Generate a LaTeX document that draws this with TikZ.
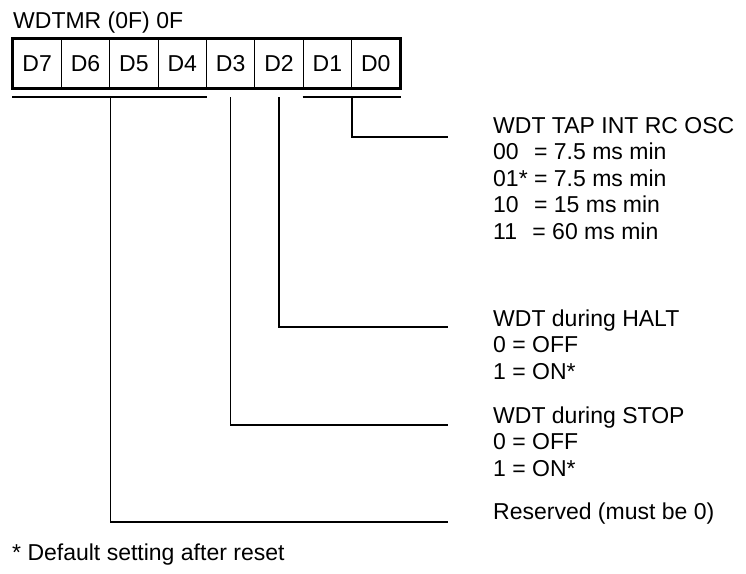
\documentclass[tikz,border=0pt]{standalone}
\usepackage{fontspec}
\setmainfont{Liberation Sans}
\tikzset{
  cell/.style ={draw=black,line width=1.2pt,minimum width=48.375pt,
                minimum height=49pt,inner sep=0pt,font=\fontsize{23}{27}\selectfont},
  frame/.style={draw=black,line width=2.8pt},
  wire/.style ={draw=black,line width=1.5pt},
  lbl/.style  ={anchor=base west,inner sep=0pt,font=\fontsize{23}{27}\selectfont},
}
\begin{document}
\begin{tikzpicture}[x=1pt, y=-1pt]
\useasboundingbox (0,0) rectangle (746,573);

%% ---------------- register ----------------
\node[lbl] (title) at (13,28) {WDTMR (0F) 0F};
\foreach \b [count=\i from 0] in {7,6,5,4,3,2,1,0}
  \node[cell] (d\b) at (13+48.375*\i+24.1875, 63.5) {D\b};
\draw[frame] (d7.north west) rectangle (d0.south east);

%% ---------------- bit descriptions ----------------
\foreach \txt [count=\i from 0] in {WDT TAP INT RC OSC,
    00\hphantom{*} = 7.5 ms min, 01* = 7.5 ms min,
    10\hphantom{*} = 15 ms min, 11\hphantom{*} = 60 ms min}
  \node[lbl] (tap\i) at (493, 133+26.5*\i) {\txt};
\foreach \txt [count=\i from 0] in {WDT during HALT, 0 = OFF, 1 = ON*}
  \node[lbl] (halt\i) at (493, 326+26.5*\i) {\txt};
\foreach \txt [count=\i from 0] in {WDT during STOP, 0 = OFF, 1 = ON*}
  \node[lbl] (stop\i) at (493, 423+26.5*\i) {\txt};
\node[lbl] (rsv) at (493,519) {Reserved (must be 0)};
\node[lbl] (note) at (12,560) {* Default setting after reset};

%% ---------------- brackets and leaders ----------------
\coordinate (bus) at (0,97);
\coordinate (e10) at (448,137);
\coordinate (e2)  at (448,327);
\coordinate (e3)  at (448,425);
\coordinate (e74) at (448,522);

\draw[wire] (d7.south west |- bus) -- (d4.south east |- bus);
\draw[wire] (d1.south west |- bus) -- (d0.south east |- bus);

\draw[wire] (d1.south east |- bus) |- (e10);
\draw[wire] (d2.south |- bus) |- (e2);
\draw[wire] (d3.south |- bus) |- (e3);
\draw[wire] (d6.south east |- bus) |- (e74);

\end{tikzpicture}
\end{document}
